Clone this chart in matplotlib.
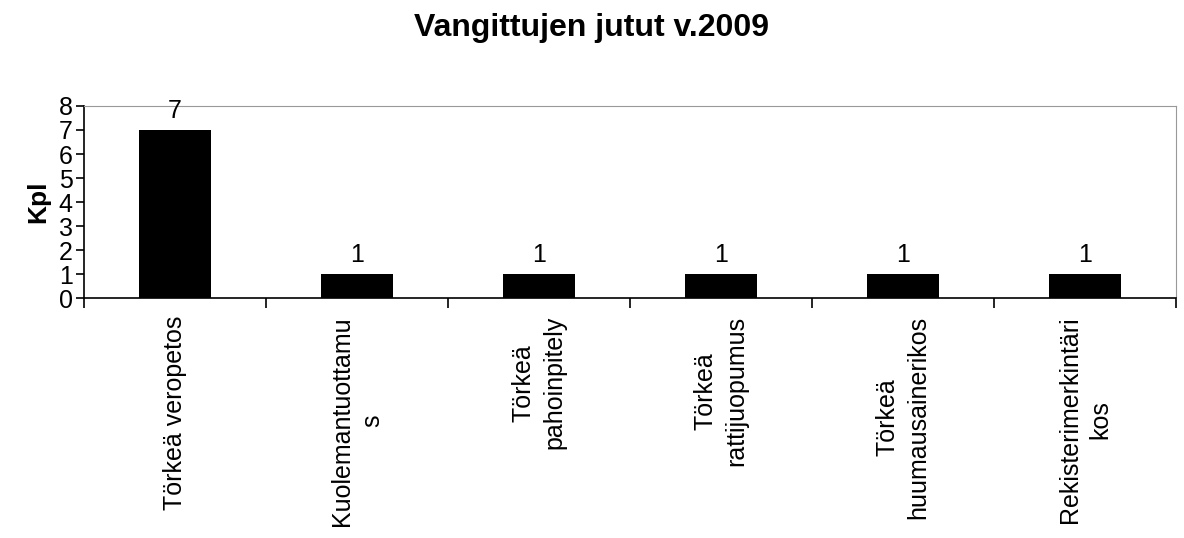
import numpy as np
import matplotlib.pyplot as plt

plt.rcParams['font.family'] = ['Liberation Sans', 'DejaVu Sans']

# data
categories = ["Törkeä veropetos", "Kuolemantuottamu\ns", "Törkeä\npahoinpitely",
              "Törkeä\nrattijuopumus", "Törkeä\nhuumausainerikos",
              "Rekisterimerkintäri\nkos"]
counts = [7, 1, 1, 1, 1, 1]

fig = plt.figure(figsize=(11.84, 5.38), dpi=100)
ax = fig.add_axes([0.0709, 0.446, 0.9223, 0.357])

ind = np.arange(len(categories))
bars = ax.bar(ind, counts, 0.4, color='black')

# value labels above bars
for b, v in zip(bars, counts):
    ax.annotate(str(v), (b.get_x() + b.get_width() / 2, v), xytext=(0, 5),
                textcoords='offset points', ha='center', va='bottom', fontsize=18)

ax.set_xlim(-0.5, len(categories) - 0.5)
ax.set_ylim(0, 8)
ax.set_yticks(range(0, 9))
ax.tick_params(axis='y', labelsize=18, length=6, width=1.2, pad=2)

# category ticks between bars, labels centred under bars
ax.set_xticks(np.arange(-0.5, len(categories)))
ax.set_xticklabels([])
ax.tick_params(axis='x', length=7, width=1.2)
for i, c in enumerate(categories):
    ax.text(i, -0.75, c, rotation=90, ha='center', va='top', fontsize=18,
            multialignment='center', linespacing=1.32)

ax.spines['left'].set_linewidth(1.2)
ax.spines['bottom'].set_linewidth(1.2)
ax.spines['top'].set_color('#999999')
ax.spines['right'].set_color('#999999')

ax.set_ylabel("Kpl", fontsize=19, fontweight='bold', labelpad=6)
fig.suptitle("Vangittujen jutut v.2009", fontsize=23, fontweight='bold', y=0.975)

fig.savefig("out.png", dpi=100)
